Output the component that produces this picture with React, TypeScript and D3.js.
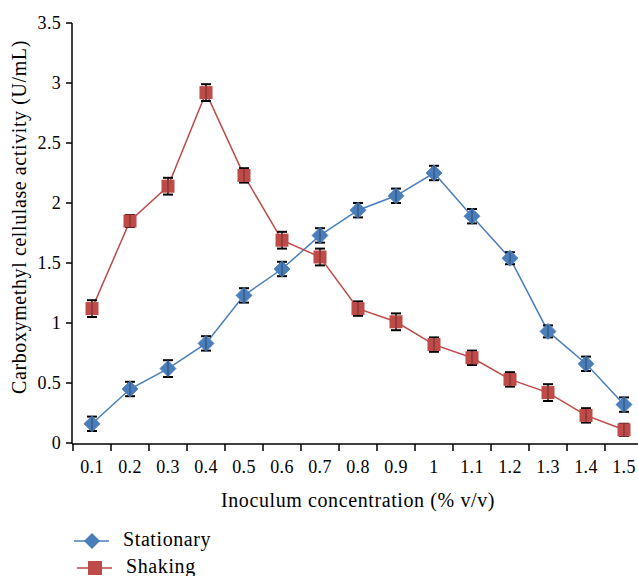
import React from 'react';
import * as d3 from 'd3';

const categories = ['0.1', '0.2', '0.3', '0.4', '0.5', '0.6', '0.7', '0.8', '0.9', '1', '1.1', '1.2', '1.3', '1.4', '1.5'];
const stationary = [0.16, 0.45, 0.62, 0.83, 1.23, 1.45, 1.73, 1.94, 2.06, 2.25, 1.89, 1.54, 0.93, 0.66, 0.32];
const stationaryErr = [0.06, 0.06, 0.07, 0.06, 0.06, 0.06, 0.06, 0.06, 0.06, 0.06, 0.06, 0.05, 0.05, 0.06, 0.06];
const shaking = [1.12, 1.85, 2.14, 2.92, 2.23, 1.69, 1.55, 1.12, 1.01, 0.82, 0.71, 0.53, 0.42, 0.23, 0.11];
const shakingErr = [0.07, 0.05, 0.07, 0.07, 0.06, 0.07, 0.07, 0.06, 0.07, 0.06, 0.06, 0.06, 0.07, 0.06, 0.05];
const yTicks = [0, 0.5, 1, 1.5, 2, 2.5, 3, 3.5];

const width = 638, height = 576;
const font = 'Liberation Serif, DejaVu Serif, serif';
const blue = '#4a7ebb';
const red = '#be4b48';

export default function App() {
  const x = d3.scaleBand().domain(categories).range([73, 643]);
  const y = d3.scaleLinear().domain([0, 3.5]).range([443, 23]);
  const cx = (c: string) => (x(c) as number) + x.bandwidth() / 2;

  const line = d3.line<number>()
    .x((d, i) => cx(categories[i]))
    .y(d => y(d));

  const diamond = (s: number) => `M0,${-s}L${s},0L0,${s}L${-s},0Z`;

  // caps + stem; stem drawn over the marker, faint
  const errBars = (vals: number[], errs: number[], part: 'caps' | 'stem') =>
    vals.map((v, i) => {
      const px = cx(categories[i]);
      const hi = y(v + errs[i]), lo = y(v - errs[i]);
      if (part === 'stem') {
        return <line key={i} x1={px} x2={px} y1={hi} y2={lo} stroke="#000" strokeOpacity={0.35} strokeWidth={1.2} />;
      }
      return (
        <g key={i} stroke="#000" strokeWidth={2}>
          <line x1={px} x2={px} y1={hi} y2={lo} strokeWidth={1.2} />
          <line x1={px - 5} x2={px + 5} y1={hi} y2={hi} />
          <line x1={px - 5} x2={px + 5} y1={lo} y2={lo} />
        </g>
      );
    });

  const txt = { fontFamily: font, letterSpacing: '0.6px' };
  const tick = { fontFamily: font, letterSpacing: '0.3px' };

  return (
    <svg width={width} height={height} style={{ display: 'block', position: 'absolute', left: 0, top: 0 }}>
      <rect width={width} height={height} fill="#fff" />
      {/* axes */}
      <line x1={72} x2={72} y1={23} y2={444} stroke="#000" strokeWidth={1.5} />
      <line x1={72} x2={643} y1={444} y2={444} stroke="#000" strokeWidth={1.5} />
      {yTicks.map(t => (
        <g key={t}>
          <line x1={66} x2={72} y1={y(t)} y2={y(t)} stroke="#000" strokeWidth={1.5} />
          <text x={61} y={y(t)} dy="0.33em" textAnchor="end" style={tick} fontSize={18}>{t}</text>
        </g>
      ))}
      {categories.map((c, i) => (
        <line key={'t' + i} x1={(x(c) as number)} x2={(x(c) as number)} y1={444} y2={451} stroke="#000" strokeWidth={1.5} />
      ))}
      {categories.map(c => (
        <text key={'l' + c} x={cx(c)} y={473} textAnchor="middle" style={tick} fontSize={18}>{c}</text>
      ))}
      <text x={358} y={507} textAnchor="middle" style={txt} fontSize={20}>Inoculum concentration (% v/v)</text>
      <text transform="translate(26,217) rotate(-90)" textAnchor="middle" style={txt} fontSize={20}>Carboxymethyl cellulase activity (U/mL)</text>

      {/* series */}
      <path d={line(stationary) || ''} fill="none" stroke={blue} strokeWidth={1.5} />
      <path d={line(shaking) || ''} fill="none" stroke={red} strokeWidth={1.5} />
      {errBars(stationary, stationaryErr, 'caps')}
      {errBars(shaking, shakingErr, 'caps')}
      {stationary.map((v, i) => (
        <path key={'d' + i} d={diamond(8)} transform={`translate(${cx(categories[i])},${y(v)})`} fill={blue} stroke={blue} strokeWidth={0.8} strokeLinejoin="round" />
      ))}
      {shaking.map((v, i) => (
        <rect key={'s' + i} x={cx(categories[i]) - 6.5} y={y(v) - 6.5} width={13} height={13} fill={red} />
      ))}
      {errBars(stationary, stationaryErr, 'stem')}
      {errBars(shaking, shakingErr, 'stem')}

      {/* legend */}
      <line x1={74} x2={109} y1={541} y2={541} stroke={blue} strokeWidth={1.5} />
      <path d={diamond(8)} transform="translate(92,541)" fill={blue} />
      <text x={123} y={546} style={txt} fontSize={20}>Stationary</text>
      <line x1={77} x2={112} y1={568} y2={568} stroke={red} strokeWidth={1.5} />
      <rect x={88} y={561} width={14} height={14} fill={red} />
      <text x={126} y={573} style={txt} fontSize={20}>Shaking</text>
    </svg>
  );
}
